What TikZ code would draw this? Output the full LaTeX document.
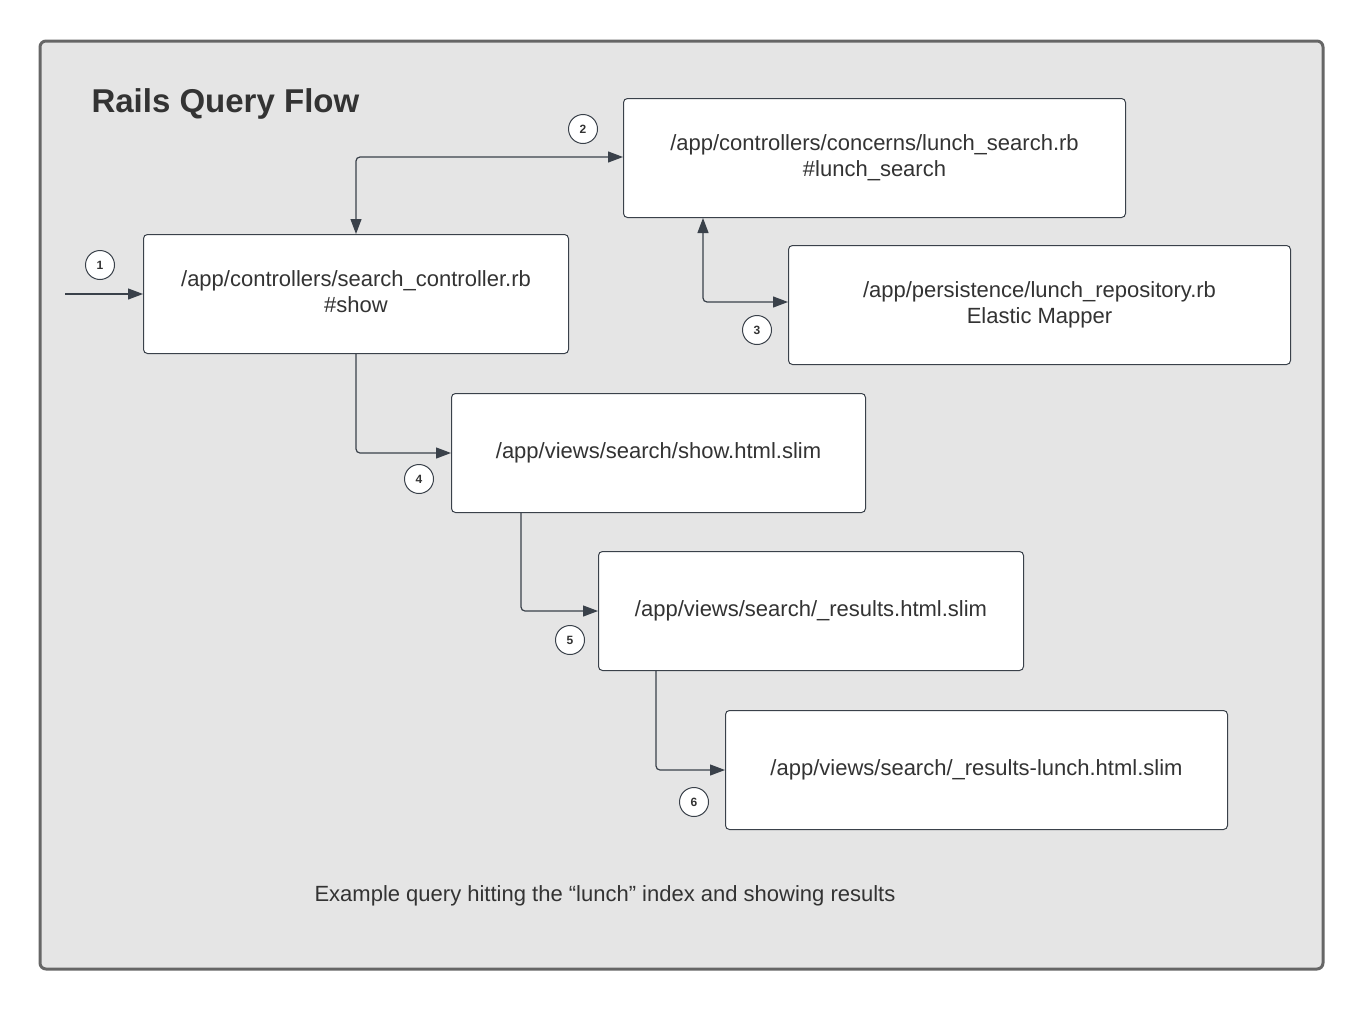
\documentclass[tikz,border=0pt]{standalone}
\usepackage{fontspec}
\setmainfont{Liberation Sans}
\usetikzlibrary{arrows.meta,calc}
\definecolor{framefill}{HTML}{E5E5E5}
\definecolor{framedraw}{HTML}{666666}
\definecolor{linec}{HTML}{3A414A}
\definecolor{textc}{HTML}{333333}
\begin{document}
\begin{tikzpicture}[x=1pt,y=-1pt,
  filebox/.style={draw=linec,line width=1pt,fill=white,rounded corners=4pt,text=textc,
    font=\fontsize{22}{26}\selectfont,align=center,anchor=north west,inner sep=0pt},
  conn/.style={draw=linec,line width=1.2pt,rounded corners=4pt,-{Triangle[length=15pt,width=11pt]}},
  biconn/.style={conn,{Triangle[length=15pt,width=11pt]}-{Triangle[length=15pt,width=11pt]}},
  stepnum/.style={circle,draw=linec,line width=1pt,fill=white,minimum size=29pt,inner sep=0pt,
    font=\bfseries\fontsize{12}{12}\selectfont,text=textc}]
\useasboundingbox (0,0) rectangle (1365,1009);
\draw[framedraw,line width=3pt,fill=framefill,rounded corners=6pt] (40,41) rectangle (1323,969);
\node[anchor=west,font=\bfseries\fontsize{33}{33}\selectfont,text=textc] (title) at (88,104) {Rails Query Flow};
% boxes
\node[filebox,minimum width=425pt,minimum height=119pt] (A) at (143,234) {/app/controllers/search\_controller.rb\\\#show\vphantom{p}};
\node[filebox,minimum width=502pt,minimum height=119pt] (B) at (623,98) {/app/controllers/concerns/lunch\_search.rb\\\#lunch\_search\vphantom{p}};
\node[filebox,minimum width=502pt,minimum height=119pt] (C) at (788,245) {/app/persistence/lunch\_repository.rb\\Elastic Mapper};
\node[filebox,minimum width=414pt,minimum height=119pt] (D) at (451,393) {/app/views/search/show.html.slim};
\node[filebox,minimum width=425pt,minimum height=119pt] (E) at (598,551) {/app/views/search/\_results.html.slim};
\node[filebox,minimum width=502pt,minimum height=119pt] (F) at (725,710) {/app/views/search/\_results-lunch.html.slim};
% connectors
\coordinate (start) at (65,294);
\draw[conn] (start) -- (start -| A.west);
\draw[biconn] (A.north) |- ($(B.north west)+(0,59)$);
\draw[biconn] ($(B.south west)+(80,0)$) |- ($(C.north west)+(0,57)$);
\draw[conn] (A.south) |- (D.west);
\draw[conn] ($(D.south west)+(70,0)$) |- (E.west);
\draw[conn] ($(E.south west)+(58,0)$) |- (F.west);
% numbers
\node[stepnum] (n1) at (100,265) {1};
\node[stepnum] (n2) at (583,129) {2};
\node[stepnum] (n3) at (757,330) {3};
\node[stepnum] (n4) at (419,479) {4};
\node[stepnum] (n5) at (570,640) {5};
\node[stepnum] (n6) at (694,802) {6};
% caption
\node[font=\fontsize{22}{22}\selectfont,text=textc] (cap) at (605,896) {Example query hitting the “lunch” index and showing results};
\end{tikzpicture}
\end{document}
